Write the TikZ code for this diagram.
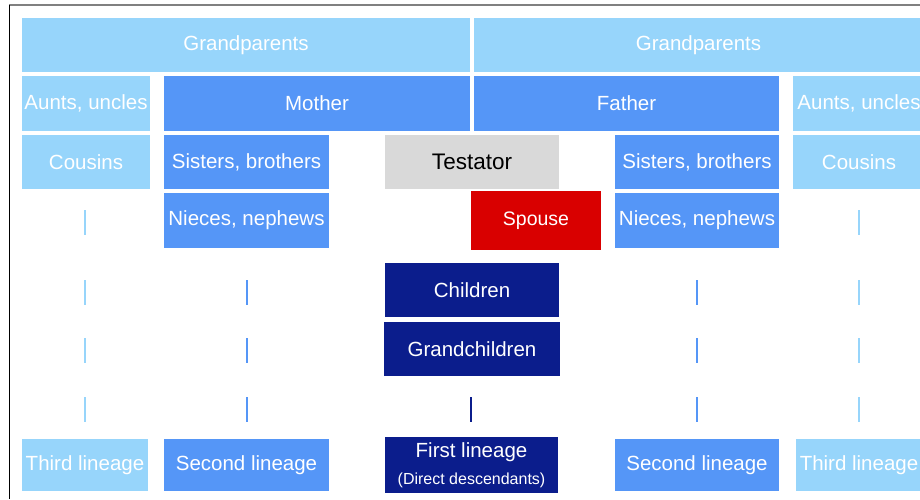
\documentclass[tikz,border=0pt]{standalone}
\usepackage{fontspec}
\setmainfont{Liberation Sans}
\definecolor{lineagethree}{HTML}{97D5FB}
\definecolor{lineagetwo}{HTML}{5596F7}
\definecolor{lineageone}{HTML}{0B1D8C}
\definecolor{spousered}{HTML}{D90000}
\definecolor{testgray}{HTML}{D9D9D9}
\begin{document}
\begin{tikzpicture}[x=1pt,y=-1pt,
        box/.style={rectangle,inner sep=0pt,text=white,font=\fontsize{20.5}{24}\selectfont},
        third/.style={box,fill=lineagethree},
        second/.style={box,fill=lineagetwo},
        first/.style={box,fill=lineageone},
        tick/.style={line width=2pt}]
    \useasboundingbox (0,0) rectangle (920,499);
    \draw[gray,line width=1.5pt] (9,5) -- (920,5);
    \draw[black,line width=1.5pt] (9.5,5) -- (9.5,499);
    % grandparents and parents
    \node[third,minimum width=448pt,minimum height=54pt] (gpmother) at (246,45) {Grandparents};
    \node[third,minimum width=449pt,minimum height=54pt] (gpfather) at (698.5,45) {Grandparents};
    \node[third,minimum width=128pt,minimum height=55pt] (auntsL) at (86,103.5) {Aunts, uncles};
    \node[second,minimum width=306pt,minimum height=55pt] (mother) at (317,103.5) {Mother};
    \node[second,minimum width=305pt,minimum height=55pt] (father) at (626.5,103.5) {Father};
    \node[third,minimum width=132pt,minimum height=55pt] (auntsR) at (859,103.5) {Aunts, uncles};
    % testator's generation
    \node[third,minimum width=128pt,minimum height=54pt] (cousinsL) at (86,162) {Cousins};
    \node[second,minimum width=165pt,minimum height=54pt] (siblingsL) at (246.5,162) {Sisters, brothers};
    \node[box,fill=testgray,text=black,font=\fontsize{22.5}{27}\selectfont,minimum width=174pt,minimum height=54pt] (testator) at (472,162) {Testator};
    \node[second,minimum width=164pt,minimum height=54pt] (siblingsR) at (697,162) {Sisters, brothers};
    \node[third,minimum width=132pt,minimum height=54pt] (cousinsR) at (859,162) {Cousins};
    \node[second,minimum width=165pt,minimum height=55pt] (niecesL) at (246.5,220.5) {Nieces, nephews};
    \node[box,fill=spousered,font=\fontsize{19.5}{24}\selectfont,minimum width=130pt,minimum height=59pt] (spouse) at (536,220.5) {Spouse};
    \node[second,minimum width=164pt,minimum height=55pt] (niecesR) at (697,220.5) {Nieces, nephews};
    % descendants
    \node[first,minimum width=174pt,minimum height=54pt] (children) at (472,290) {Children};
    \node[first,minimum width=176pt,minimum height=54pt] (grandchildren) at (472,349) {Grandchildren};
    % lineages
    \node[third,minimum width=126pt,minimum height=52pt] (thirdL) at (85,465) {Third lineage};
    \node[second,minimum width=165pt,minimum height=52pt] (secondL) at (246.5,465) {Second lineage};
    \node[first,minimum width=173pt,minimum height=56pt,align=center] (firstlin) at (471.5,465)
        {First lineage\\[3pt]{\fontsize{16}{18}\selectfont(Direct descendants)}};
    \node[second,minimum width=164pt,minimum height=52pt] (secondR) at (697,465) {Second lineage};
    \node[third,minimum width=126pt,minimum height=52pt] (thirdR) at (859,465) {Third lineage};
    % continuation ticks
    \foreach \y in {210,280,338,397} {
        \draw[tick,lineagethree] (85,\y) -- ++(0,25);
        \draw[tick,lineagethree] (859,\y) -- ++(0,25);
    }
    \foreach \y in {280,338,397} {
        \draw[tick,lineagetwo] (247,\y) -- ++(0,25);
        \draw[tick,lineagetwo] (697,\y) -- ++(0,25);
    }
    \draw[tick,lineageone] (471,397) -- ++(0,25);
\end{tikzpicture}
\end{document}
